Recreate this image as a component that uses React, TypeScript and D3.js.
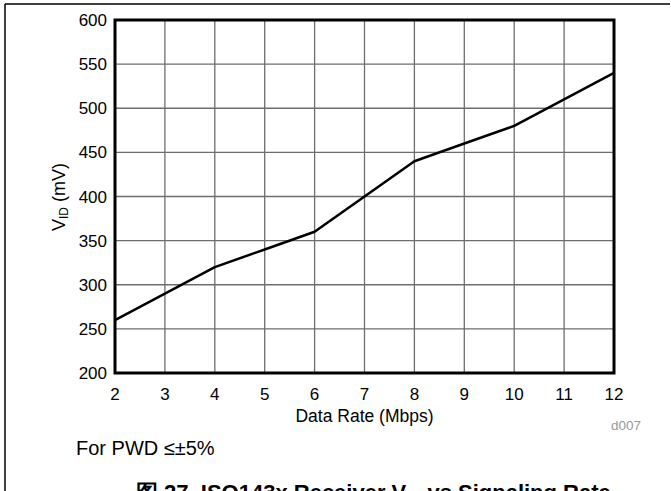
import React from "react";
import * as d3 from "d3";

const dataRates = [2, 3, 4, 5, 6, 7, 8, 9, 10, 11, 12];
const vidValues = [260, 290, 320, 340, 360, 400, 440, 460, 480, 510, 540];
const xTicks = [2, 3, 4, 5, 6, 7, 8, 9, 10, 11, 12];
const yTicks = [200, 250, 300, 350, 400, 450, 500, 550, 600];

const W = 671;
const H = 491;
const left = 115;
const right = 614;
const top = 20;
const bottom = 373;
const font = "'Liberation Sans', Arial, Helvetica, sans-serif";

export default function App() {
  const x = d3.scaleLinear().domain([2, 12]).range([left, right]);
  const y = d3.scaleLinear().domain([200, 600]).range([bottom, top]);
  const line = d3
    .line<number>()
    .x((_, i) => x(dataRates[i]))
    .y((d) => y(d));

  return (
    <svg
      width={W}
      height={H}
      style={{ position: "absolute", left: 0, top: 0, background: "#fff" }}
      fontFamily={font}
    >
      <rect x={0} y={0} width={W} height={H} fill="#fff" />
      {/* outer frame */}
      <line x1={5} y1={4} x2={670} y2={4} stroke="#000" strokeWidth={1.5} />
      <line x1={5} y1={4} x2={5} y2={491} stroke="#000" strokeWidth={1.5} />

      {/* grid */}
      {xTicks.map((t) => (
        <line key={"gx" + t} x1={x(t)} x2={x(t)} y1={top} y2={bottom} stroke="#6e6e6e" strokeWidth={1.3} />
      ))}
      {yTicks.map((t) => (
        <line key={"gy" + t} x1={left} x2={right} y1={y(t)} y2={y(t)} stroke="#6e6e6e" strokeWidth={1.3} />
      ))}

      {/* plot frame */}
      <rect x={left} y={top} width={right - left} height={bottom - top} fill="none" stroke="#000" strokeWidth={3} />

      {/* data line */}
      <path d={line(vidValues) || ""} fill="none" stroke="#000" strokeWidth={2.5} strokeLinejoin="round" />

      {/* y tick labels */}
      {yTicks.map((t) => (
        <text key={"yl" + t} x={107} y={y(t) + 6} textAnchor="end" fontSize={17} fill="#000">
          {t}
        </text>
      ))}
      {/* x tick labels */}
      {xTicks.map((t) => (
        <text key={"xl" + t} x={x(t)} y={400} textAnchor="middle" fontSize={17} fill="#000">
          {t}
        </text>
      ))}

      {/* axis titles */}
      <text x={(left + right) / 2} y={422} textAnchor="middle" fontSize={17.5} fill="#000">
        Data Rate (Mbps)
      </text>
      <text transform="translate(65,197) rotate(-90)" textAnchor="middle" fontSize={18} fill="#000">
        V<tspan fontSize={12} dy={3}>ID</tspan>
        <tspan dy={-3}> (mV)</tspan>
      </text>

      <text x={626} y={430} textAnchor="middle" fontSize={13.5} fill="#999">
        d007
      </text>
      <text x={76} y={455} fontSize={20} fill="#000">
        For PWD ≤±5%
      </text>
      <text x={136} y={500} fontSize={22} fontWeight="bold" fill="#000">
        图 27. ISO143x Receiver V<tspan fontSize={15} dy={4}>ID</tspan>
        <tspan dy={-4}> vs Signaling Rate</tspan>
      </text>
    </svg>
  );
}
